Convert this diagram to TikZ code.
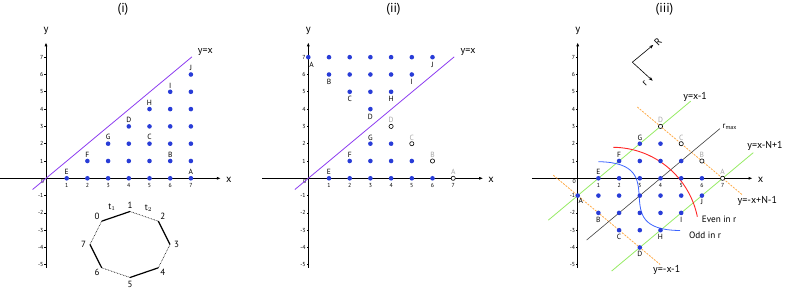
\documentclass[tikz,border=0pt]{standalone}
\usepackage{fontspec}
\setmainfont{PT Sans}
\usetikzlibrary{arrows.meta}
\definecolor{ptblue}{RGB}{40,60,215}
\definecolor{lviolet}{RGB}{140,60,240}
\definecolor{lgreen}{RGB}{150,235,100}
\definecolor{lorange}{RGB}{255,170,70}
\definecolor{arcred}{RGB}{255,40,40}
\definecolor{arcblue}{RGB}{60,100,255}
\definecolor{lblgray}{RGB}{165,165,165}
\tikzset{
  axisline/.style={line width=0.9pt,-{Latex[length=4pt,width=3pt]}},
  tickmark/.style={line width=0.6pt},
  ticklbl/.style={font=\fontsize{5.8}{6}\selectfont,inner sep=0pt},
  axlbl/.style={font=\fontsize{10.5}{12}\selectfont,inner sep=0pt},
  plbl/.style={font=\fontsize{7.5}{8}\selectfont,inner sep=0pt},
  glbl/.style={plbl,text=lblgray},
  bdot/.style={fill=ptblue},
  odot/.style={draw=black,fill=white,line width=0.6pt},
  ttl/.style={font=\fontsize{13}{15}\selectfont,inner sep=0pt},
  diagline/.style={lviolet,line width=0.8pt},
  eqlbl/.style={font=\fontsize{10}{11}\selectfont,inner sep=0pt},
  gline/.style={lgreen,line width=0.8pt},
  oline/.style={lorange,line width=0.8pt,dash pattern=on 2pt off 1.2pt},
  kline/.style={black!75,line width=0.6pt},
  solidedge/.style={line width=1.2pt,black},
  dotedge/.style={line width=0.6pt,black,dash pattern=on 0.7pt off 0.9pt},
  octlbl/.style={font=\fontsize{9}{10}\selectfont,inner sep=0pt},
}
\newcommand\panelaxes{%
  \draw[axisline] (-2.22,0) -- (8.45,0);
  \draw[axisline] (0,-5.18) -- (0,7.86);
  \node[axlbl] (xl) at (8.83,-0.1) {x};
  \node[axlbl] (yl) at (0,8.52) {y};
  \foreach \i in {1,...,7} {\draw[tickmark] (\i,0) -- ++(0,-1.8pt);
    \node[ticklbl] at (\i,-0.4) {\i};}
  \foreach \j in {-5,-4,-3,-2,-1,1,2,3,4,5,6,7} {\draw[tickmark] (0,\j) -- ++(-1.8pt,0);
    \node[ticklbl,anchor=east] at ([xshift=-2.5pt]0,\j) {\j};}
  \node[ticklbl] at ([xshift=-3.6pt,yshift=-3.6pt]0,0) {0};
}
\begin{document}
\begin{tikzpicture}
\useasboundingbox (0,0) rectangle (789pt,291pt);
% titles
\node[ttl] (t1) at (123pt,282pt) {(i)};
\node[ttl] (t2) at (393.5pt,282pt) {(ii)};
\node[ttl] (t3) at (664.5pt,282pt) {(iii)};

% ---------------- panel (i)
\begin{scope}[shift={(46pt,112.7pt)},x=20.7pt,y=17.3pt]
  \panelaxes
  \draw[diagline] (-0.65,-0.65) -- (7.05,7.02);
  \node[eqlbl] (yx1) at (7.7,7.32) {y=x};
  \foreach \y in {0,...,6}{\pgfmathtruncatemacro\s{\y+1}
    \foreach \x in {\s,...,7}{\fill[bdot] (\x,\y) circle[radius=2.3pt];}}
  \foreach \x/\y/\l in {1/0/E,7/0/A,2/1/F,6/1/B,3/2/G,5/2/C,4/3/D,5/4/H,6/5/I,7/6/J}
    {\node[plbl] at ([yshift=6.4pt]\x,\y) {\l};}
\end{scope}

% octagon
\foreach \k in {0,...,7}{
  \pgfmathsetmacro\ang{135-45*\k}
  \pgfmathsetmacro\vx{130+40*cos(\ang)}
  \pgfmathsetmacro\vy{46.5+33*sin(\ang)}
  \pgfmathsetmacro\lx{130+46.5*cos(\ang)}
  \pgfmathsetmacro\ly{46.5+39.5*sin(\ang)}
  \coordinate (v\k) at (\vx pt,\vy pt);
  \node[octlbl] (n\k) at (\lx pt,\ly pt) {\k};
}
\draw[solidedge] (v0) -- (v1);
\draw[dotedge] (v1) -- (v2);
\draw[solidedge] (v2) -- (v3);
\draw[dotedge] (v3) -- (v4);
\draw[solidedge] (v4) -- (v5);
\draw[dotedge] (v5) -- (v6);
\draw[solidedge] (v6) -- (v7);
\draw[dotedge] (v7) -- (v0);
\node[octlbl] (tt1) at (112pt,83.5pt) {t$_1$};
\node[octlbl] (tt2) at (148.5pt,83pt) {t$_2$};

% ---------------- panel (ii)
\begin{scope}[shift={(308.3pt,112.7pt)},x=20.7pt,y=17.3pt]
  \panelaxes
  \draw[diagline] (-0.65,-0.65) -- (7.05,7.02);
  \node[eqlbl] (yx2) at (7.72,7.32) {y=x};
  \foreach \y in {0,1,2}{\pgfmathtruncatemacro\s{\y+1}\pgfmathtruncatemacro\e{6-\y}
    \foreach \x in {\s,...,\e}{\fill[bdot] (\x,\y) circle[radius=2.3pt];}}
  \foreach \x/\y/\l in {7/0/A,6/1/B,5/2/C,4/3/D}
    {\draw[odot] (\x,\y) circle[radius=2.1pt];
     \node[glbl] at ([yshift=6.2pt]\x,\y) {\l};}
  \foreach \x/\y/\l in {1/0/E,2/1/F,3/2/G}
    {\node[plbl] at ([yshift=6.2pt]\x,\y) {\l};}
  \foreach \k in {0,...,3}{\pgfmathtruncatemacro\e{6-\k}
    \foreach \x in {\k,...,\e}{\fill[bdot] (\x,{7-\k}) circle[radius=2.3pt];}}
  \node[plbl] at ([xshift=3.2pt,yshift=-7.5pt]0,7) {A};
  \foreach \x/\y/\l in {6/7/J,1/6/B,5/6/I,2/5/C,4/5/H,3/4/D}
    {\node[plbl] at ([yshift=-7.3pt]\x,\y) {\l};}
\end{scope}

% ---------------- panel (iii)
\begin{scope}[shift={(577.7pt,112.7pt)},x=20.7pt,y=17.3pt]
  \panelaxes
  \draw[gline] (-1.42,-2.42) -- (5.46,4.46);
  \draw[gline] (1.64,-5.36) -- (8.48,1.48);
  \draw[oline] (2.88,4.12) -- (7.97,-0.97);
  \draw[oline] (-1.18,0.18) -- (3.98,-4.98);
  \draw[kline] (0.43,-3.57) -- (6.87,2.87);
  \draw[arcred,line width=0.9pt] (35.6pt,31.0pt) arc[start angle=89.4,end angle=11.5,radius=86.7pt];
  \draw[arcblue,line width=0.8pt] (20.6pt,16.6pt) .. controls (98pt,15.5pt) and (25pt,-51.7pt) .. (102.3pt,-52.2pt);
  \node[eqlbl] (e1) at (5.67,4.72) {y=x-1};
  \node[eqlbl] (e2) at (9.05,1.87) {y=x-N+1};
  \node[eqlbl] (e3) at (8.68,-1.31) {y=-x+N-1};
  \node[eqlbl] (e4) at (4.3,-5.3) {y=-x-1};
  \node[plbl,font=\fontsize{8.5}{9}\selectfont] (rm) at (7.35,2.98) {r$_{\mathrm{max}}$};
  \node[eqlbl,font=\fontsize{9.2}{10}\selectfont] (ev) at (6.83,-2.37) {Even in r};
  \node[eqlbl,font=\fontsize{9.2}{10}\selectfont] (od) at (6.15,-3.29) {Odd in r};
  % R / r frame
  \coordinate (ro) at (2.64,6.71);
  \coordinate (rR) at (3.65,7.71);
  \coordinate (rr) at (3.62,5.64);
  \draw[line width=0.6pt,-{Stealth[length=4pt,width=3pt]}] (ro) -- (rR);
  \draw[line width=0.6pt,-{Stealth[length=4pt,width=3pt]}] (ro) -- (rr);
  \node[plbl,font=\fontsize{10}{11}\selectfont,rotate=45] (Rl) at (3.88,7.9) {R};
  \node[plbl,font=\fontsize{10}{11}\selectfont,rotate=45] (rl) at (3.25,5.48) {r};
  % points
  \foreach \y in {0,1,2}{\pgfmathtruncatemacro\s{\y+1}\pgfmathtruncatemacro\e{6-\y}
    \foreach \x in {\s,...,\e}{\fill[bdot] (\x,\y) circle[radius=2.3pt];}}
  \foreach \x/\y/\l in {7/0/A,6/1/B,5/2/C,4/3/D}
    {\draw[odot] (\x,\y) circle[radius=2.1pt];
     \node[glbl] at ([yshift=6.2pt]\x,\y) {\l};}
  \foreach \x/\y/\l in {1/0/E,2/1/F,3/2/G}
    {\node[plbl] at ([yshift=6.2pt]\x,\y) {\l};}
  \foreach \k in {0,...,3}{\pgfmathtruncatemacro\e{6-\k}
    \foreach \x in {\k,...,\e}{\fill[bdot] (\x,{-1-\k}) circle[radius=2.3pt];}}
  \node[plbl] at ([xshift=3.2pt,yshift=-5.5pt]0,-1) {A};
  \foreach \x/\y/\l in {6/-1/J,1/-2/B,5/-2/I,2/-3/C,4/-3/H,3/-4/D}
    {\node[plbl] at ([yshift=-6.6pt]\x,\y) {\l};}
\end{scope}
\end{tikzpicture}
\end{document}
